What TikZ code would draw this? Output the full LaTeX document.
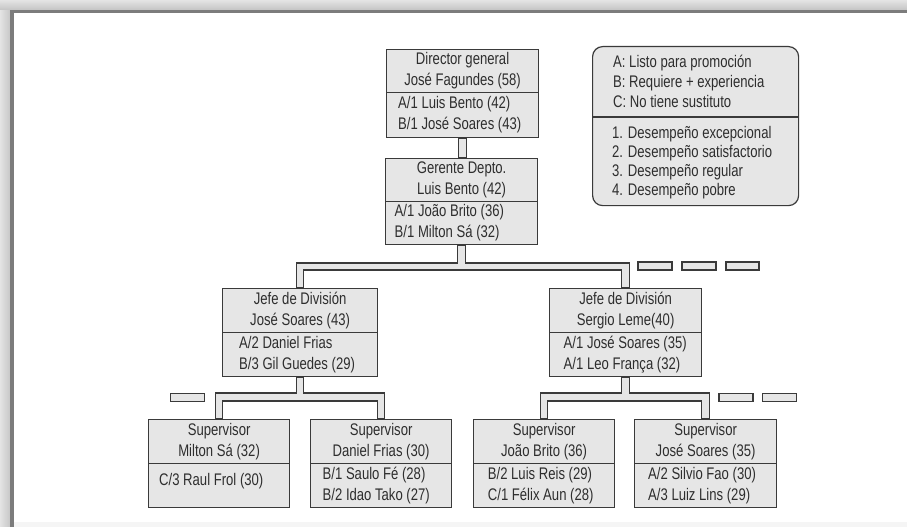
\documentclass[tikz,border=0pt]{standalone}
\usepackage{fontspec}
\setmainfont[FakeStretch=0.78]{Liberation Sans}
\usetikzlibrary{calc}

\definecolor{ink}{HTML}{2E2E2E}
\definecolor{edge}{HTML}{3A3A3A}
\definecolor{panel}{HTML}{E6E6E6}
\definecolor{rimlight}{HTML}{E4E4E4}
\definecolor{rimmid}{HTML}{C4C4C4}
\definecolor{rimdark}{HTML}{7C7C7C}

\newcommand\boxfont{\fontsize{16.8}{21}\selectfont}
\newcommand\pipehalf{3.7pt}

% T-shaped double-line connector: parent, left child, right child,
% upper and lower level of the horizontal run
\newcommand\orgbus[5]{%
  \filldraw[pipe] let \p1=(#1.south), \p2=(#2.north), \p3=(#3.north),
                      \p4=(#4), \p5=(#5) in
    (\x1-\pipehalf,\y1) -- (\x1-\pipehalf,\y4) -- (\x2-\pipehalf,\y4)
    -- (\x2-\pipehalf,\y2) -- (\x2+\pipehalf,\y2) -- (\x2+\pipehalf,\y5)
    -- (\x3-\pipehalf,\y5) -- (\x3-\pipehalf,\y3) -- (\x3+\pipehalf,\y3)
    -- (\x3+\pipehalf,\y4) -- (\x1+\pipehalf,\y4) -- (\x1+\pipehalf,\y1) -- cycle;}

\tikzset{
  hdr/.style={draw=edge, fill=panel, line width=1.2pt, anchor=north west,
              inner sep=0pt, text=ink, align=center, font=\boxfont},
  low/.style={draw=edge, fill=panel, line width=1.2pt, anchor=north west,
              inner sep=0pt},
  entry/.style={anchor=west, inner sep=0pt, text=ink, align=left, font=\boxfont},
  pipe/.style={draw=edge, fill=panel, line width=1.1pt, line join=miter},
  vacant/.style={draw=edge, fill=panel, line width=1.1pt, inner sep=0pt,
                 minimum width=34pt, minimum height=8pt},
  keybox/.style={draw=edge, fill=panel, line width=1.2pt, rounded corners=10pt,
                 anchor=north west, inner sep=0pt},
  keyline/.style={anchor=base west, inner sep=0pt, text=ink, font=\boxfont},
}

\begin{document}
\begin{tikzpicture}[x=1pt, y=-1pt]
\useasboundingbox (0,0) rectangle (907,527);

% page frame
\fill[white] (0,0) rectangle (907,527);
\shade[left color=rimlight, right color=rimmid] (0,0) rectangle (11,527);
\shade[top color=rimlight, bottom color=rimmid] (0,0) rectangle (907,10);
\fill[rimdark] (10,10) rectangle (14,527);
\fill[rimdark] (10,10) rectangle (907,13);
\fill[black!4] (14,522) rectangle (907,527);

% Director general
\node[hdr, minimum width=152pt, minimum height=43pt] (dirH) at (386,49)
  {Director general\\José Fagundes (58)};
\node[low, minimum width=152pt, minimum height=45pt] (dirL) at (386,92) {};
\node[entry] at ($(dirL.west)+(12,0)$) {A/1 Luis Bento (42)\\B/1 José Soares (43)};

% Gerente
\node[hdr, minimum width=152pt, minimum height=43pt] (gerH) at (385,158)
  {Gerente Depto.\\Luis Bento (42)};
\node[low, minimum width=152pt, minimum height=43pt] (gerL) at (385,201) {};
\node[entry] at ($(gerL.west)+(9.5,0)$) {A/1 João Brito (36)\\B/1 Milton Sá (32)};

% Jefes de división
\node[hdr, minimum width=155pt, minimum height=44pt] (jefLH) at (222,288)
  {Jefe de División\\José Soares (43)};
\node[low, minimum width=155pt, minimum height=44pt] (jefLL) at (222,332) {};
\node[entry] at ($(jefLL.west)+(17,0)$) {A/2 Daniel Frias\\B/3 Gil Guedes (29)};

\node[hdr, minimum width=152pt, minimum height=44pt] (jefRH) at (549,288)
  {Jefe de División\\Sergio Leme(40)};
\node[low, minimum width=152pt, minimum height=44pt] (jefRL) at (549,332) {};
\node[entry] at ($(jefRL.west)+(14.5,0)$) {A/1 José Soares (35)\\A/1 Leo França (32)};

% Supervisores
\node[hdr, minimum width=141pt, minimum height=44pt] (sup1H) at (148,419)
  {Supervisor\\Milton Sá (32)};
\node[low, minimum width=141pt, minimum height=44pt] (sup1L) at (148,463) {};
\node[entry] at ($(sup1L.west)+(11,-4)$) {C/3 Raul Frol (30)};

\node[hdr, minimum width=141pt, minimum height=44pt] (sup2H) at (310,419)
  {Supervisor\\Daniel Frias (30)};
\node[low, minimum width=141pt, minimum height=44pt] (sup2L) at (310,463) {};
\node[entry] at ($(sup2L.west)+(12.5,0)$) {B/1 Saulo Fé (28)\\B/2 Idao Tako (27)};

\node[hdr, minimum width=141pt, minimum height=44pt] (sup3H) at (473,419)
  {Supervisor\\João Brito (36)};
\node[low, minimum width=141pt, minimum height=44pt] (sup3L) at (473,463) {};
\node[entry] at ($(sup3L.west)+(14.7,0)$) {B/2 Luis Reis (29)\\C/1 Félix Aun (28)};

\node[hdr, minimum width=142pt, minimum height=44pt] (sup4H) at (634,419)
  {Supervisor\\José Soares (35)};
\node[low, minimum width=142pt, minimum height=44pt] (sup4L) at (634,463) {};
\node[entry] at ($(sup4L.west)+(14,0)$) {A/2 Silvio Fao (30)\\A/3 Luiz Lins (29)};

% connectors
\filldraw[pipe] let \p1=(dirL.south), \p2=(gerH.north) in
  (\x1-\pipehalf,\y1) rectangle (\x1+\pipehalf,\y2);

\coordinate (busAtop) at (0,263);
\coordinate (busAbot) at (0,270);
\coordinate (busBtop) at (0,393);
\coordinate (busBbot) at (0,401);

\orgbus{gerL}{jefLH}{jefRH}{busAtop}{busAbot}
\orgbus{jefLL}{sup1H}{sup2H}{busBtop}{busBbot}
\orgbus{jefRL}{sup3H}{sup4H}{busBtop}{busBbot}

% vacant positions
\node[vacant] (v1) at (655,266) {};
\node[vacant] (v2) at (699,266) {};
\node[vacant, minimum width=33pt] (v3) at (742.5,266) {};
\node[vacant, minimum height=7.5pt] (v4) at (187.5,397.5) {};
\node[vacant, minimum height=7.5pt] (v5) at (736,397.5) {};
\node[vacant, minimum height=7.5pt] (v6) at (779.5,397.5) {};

% legend
\node[keybox, minimum width=206pt, minimum height=159pt] (key) at (592,46) {};
\coordinate (keysplit) at (0,117);
\draw[edge, line width=1.2pt] (key.west |- keysplit) -- (key.east |- keysplit);
\node[keyline] at (613,67.3)  {A: Listo para promoción};
\node[keyline] at (613,87.3)  {B: Requiere + experiencia};
\node[keyline] at (613,107.3) {C: No tiene sustituto};
\node[keyline] at (612,138.8) {1. Desempeño excepcional};
\node[keyline] at (612,157.8) {2. Desempeño satisfactorio};
\node[keyline] at (612,176.8) {3. Desempeño regular};
\node[keyline] at (612,195.8) {4. Desempeño pobre};
\end{tikzpicture}
\end{document}
